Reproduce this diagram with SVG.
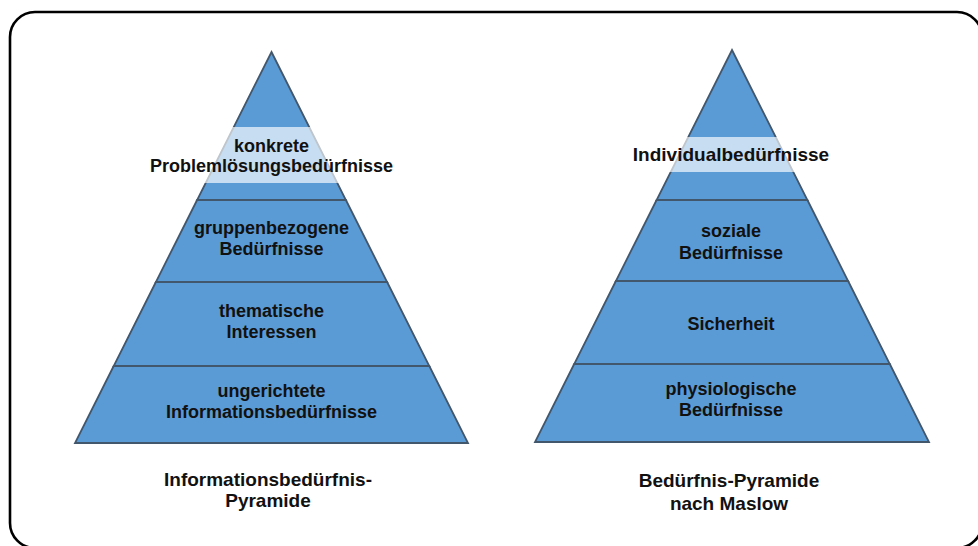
<svg xmlns="http://www.w3.org/2000/svg" width="978" height="546" viewBox="0 0 978 546">
  <style>
    .frame { fill: none; stroke: #000; stroke-width: 2.6; }
    .layer { fill: #5b9bd5; stroke: #42566c; stroke-width: 1.8; stroke-linejoin: miter; }
    .band { fill: #ffffff; fill-opacity: 0.66; }
    .lbl { font-family: "Liberation Sans", Arial, sans-serif; font-weight: bold; font-size: 18px; fill: #111; text-anchor: middle; }
    .big { font-size: 19px; }
  </style>

  <rect class="frame" x="10" y="12" width="972" height="536" rx="25" ry="25"/>

  <!-- Informationsbedürfnis-Pyramide -->
  <g id="info-pyramid">
    <g id="info-top">
      <polygon class="layer" points="271.5,52 345.9,200 197.1,200"/>
    </g>
    <g id="info-group">
      <polygon class="layer" points="197.1,200 345.9,200 387.1,282 155.9,282"/>
      <text class="lbl" x="271.5" y="234">gruppenbezogene</text>
      <text class="lbl" x="271.5" y="255">Bedürfnisse</text>
    </g>
    <g id="info-thematic">
      <polygon class="layer" points="155.9,282 387.1,282 429.3,366 113.7,366"/>
      <text class="lbl" x="271.5" y="317">thematische</text>
      <text class="lbl" x="271.5" y="338">Interessen</text>
    </g>
    <g id="info-undirected">
      <polygon class="layer" points="113.7,366 429.3,366 468,443 75,443"/>
      <text class="lbl" x="271.5" y="397">ungerichtete</text>
      <text class="lbl" x="271.5" y="418">Informationsbedürfnisse</text>
    </g>
    <g id="info-concrete">
      <rect class="band" x="138" y="127" width="266" height="56"/>
      <text class="lbl" x="271.5" y="152">konkrete</text>
      <text class="lbl" x="271.5" y="172">Problemlösungsbedürfnisse</text>
    </g>
    <g id="info-caption">
      <text class="lbl big" x="268" y="486">Informationsbedürfnis-</text>
      <text class="lbl big" x="268" y="507">Pyramide</text>
    </g>
  </g>

  <!-- Bedürfnis-Pyramide nach Maslow -->
  <g id="maslow-pyramid">
    <g id="maslow-top">
      <polygon class="layer" points="732,50 807.4,200 656.6,200"/>
    </g>
    <g id="maslow-social">
      <polygon class="layer" points="656.6,200 807.4,200 848.1,281 615.9,281"/>
      <text class="lbl" x="731" y="237">soziale</text>
      <text class="lbl" x="731" y="259">Bedürfnisse</text>
    </g>
    <g id="maslow-safety">
      <polygon class="layer" points="615.9,281 848.1,281 889.8,364 574.2,364"/>
      <text class="lbl" x="731" y="330">Sicherheit</text>
    </g>
    <g id="maslow-physio">
      <polygon class="layer" points="574.2,364 889.8,364 929,442 535,442"/>
      <text class="lbl" x="731" y="395">physiologische</text>
      <text class="lbl" x="731" y="416">Bedürfnisse</text>
    </g>
    <g id="maslow-individual">
      <rect class="band" x="612" y="137" width="242" height="35"/>
      <text class="lbl big" x="731" y="161">Individualbedürfnisse</text>
    </g>
    <g id="maslow-caption">
      <text class="lbl big" x="729" y="487">Bedürfnis-Pyramide</text>
      <text class="lbl big" x="729" y="510">nach Maslow</text>
    </g>
  </g>

  <!-- no connectors in this figure -->
  <g id="connectors"/>
</svg>
